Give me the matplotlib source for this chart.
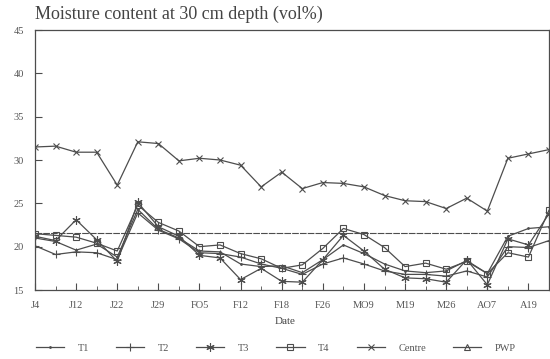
import matplotlib
matplotlib.use("Agg")
import matplotlib.pyplot as plt
from matplotlib.lines import Line2D

tick_labels = ["J4", "J12", "J22", "J29", "FO5", "F12", "F18", "F26", "MO9", "M19", "M26", "AO7", "A19"]
n_points = 26

centre = [31.5, 31.6, 30.9, 30.9, 27.1, 32.1, 31.9, 29.9, 30.2, 30.0, 29.4, 26.9, 28.6,
          26.7, 27.4, 27.3, 26.9, 25.9, 25.3, 25.2, 24.4, 25.6, 24.1, 30.2, 30.7, 31.2]
t1 = [21.0, 20.6, 19.6, 20.3, 18.8, 24.3, 22.0, 21.0, 19.5, 19.4, 18.0, 17.7, 17.8,
      17.0, 18.5, 20.2, 19.2, 18.0, 17.2, 17.0, 17.2, 18.4, 16.9, 21.2, 22.1, 22.3]
t2 = [20.1, 19.1, 19.4, 19.3, 18.5, 23.9, 21.9, 20.9, 19.3, 19.2, 18.8, 18.0, 17.5,
      16.8, 18.0, 18.7, 18.0, 17.2, 16.8, 16.8, 16.6, 17.2, 16.5, 20.0, 19.9, 20.7]
t3 = [21.2, 20.7, 23.1, 20.8, 18.3, 25.1, 22.3, 21.2, 19.0, 18.7, 16.2, 17.5, 16.0,
      15.9, 18.5, 21.3, 19.5, 17.4, 16.4, 16.3, 15.9, 18.5, 15.6, 20.9, 20.2, 23.8]
t4 = [21.5, 21.3, 21.1, 20.4, 19.5, 24.8, 22.8, 21.8, 20.0, 20.2, 19.2, 18.6, 17.5,
      17.9, 19.8, 22.1, 21.4, 19.9, 17.7, 18.1, 17.4, 18.3, 16.9, 19.3, 18.8, 24.2]
pwp_level = 21.6

col = "#4d4d4d"
serif = ["Liberation Serif", "DejaVu Serif"]

fig = plt.figure(figsize=(5.5, 3.59), dpi=100)
fig.patch.set_facecolor("white")
ax = fig.add_axes([35/550, 1-290/359, 514/550, 260/359])

x = list(range(n_points))
lw = 0.9
ax.plot(x, t1, color=col, lw=lw, marker='.', ms=2)
ax.plot(x, t2, color=col, lw=lw, marker='+', ms=6, mew=0.8)
ax.plot(x, t3, color=col, lw=lw, marker=(6, 2, 0), ms=6, mew=0.8)
ax.plot(x, t4, color=col, lw=lw, marker='s', ms=5, mfc='none', mew=0.8)
ax.plot(x, centre, color=col, lw=lw, marker='x', ms=5, mew=0.8)
ax.plot(x, [pwp_level]*n_points, color=col, lw=0.8, ls=(0, (6, 1)))

ax.set_xlim(0, n_points-1)
ax.set_ylim(15, 45)
ax.set_xticks(range(0, n_points, 2))
ax.set_xticklabels(tick_labels)
ax.set_xticks(range(1, n_points, 2), minor=True)
ax.set_yticks([15, 20, 25, 30, 35, 40, 45])
ax.tick_params(axis='both', which='major', direction='in', length=5, color=col,
               labelsize=7.5, labelcolor="#555555", pad=8)
ax.tick_params(axis='x', which='minor', direction='in', length=3, color=col)
for lab in ax.get_xticklabels() + ax.get_yticklabels():
    lab.set_family(serif)
for s in ax.spines.values():
    s.set_color(col)
    s.set_linewidth(0.9)
ax.spines['top'].set_linestyle((0, (8, 1)))

fig.text(35/550, 1-14/359, "Moisture content at 30 cm depth (vol%)", family=serif,
         fontsize=13, color="#444444", va='center', ha='left')
fig.text(285/550, 1-322/359, "Date", family=serif, fontsize=8, color="#444444",
         va='center', ha='center')

handles = [
    Line2D([], [], color=col, lw=lw, marker='.', ms=2),
    Line2D([], [], color=col, lw=lw, marker='+', ms=6, mew=0.8),
    Line2D([], [], color=col, lw=lw, marker=(6, 2, 0), ms=6, mew=0.8),
    Line2D([], [], color=col, lw=lw, marker='s', ms=5, mfc='none', mew=0.8),
    Line2D([], [], color=col, lw=lw, marker='x', ms=5, mew=0.8),
    Line2D([], [], color=col, lw=lw, marker='^', ms=5, mfc='none', mew=0.8),
]
names = ["T1", "T2", "T3", "T4", "Centre", "PWP"]
leg = fig.legend(handles, names, loc='center left', bbox_to_anchor=(36/550, 1-348/359),
                 ncol=6, frameon=False, handlelength=2.7, columnspacing=2.6,
                 handletextpad=1.3, borderaxespad=0, borderpad=0,
                 prop={'family': serif, 'size': 7.5})
for t in leg.get_texts():
    t.set_color("#555555")

fig.savefig("out.png", dpi=100, facecolor="white")
